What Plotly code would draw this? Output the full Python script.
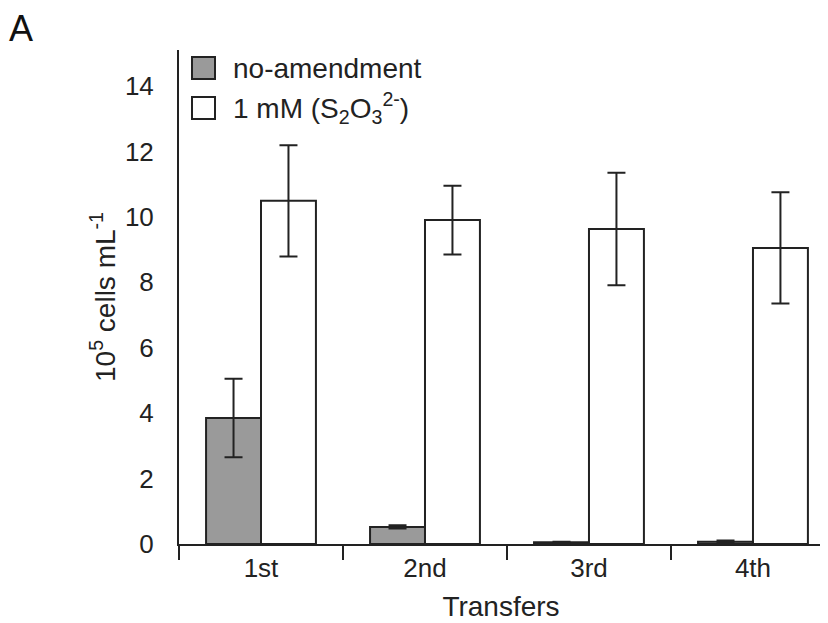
import plotly.graph_objects as go

categories = ["1st", "2nd", "3rd", "4th"]
no_amend = [3.85, 0.52, 0.05, 0.07]
no_amend_err = [1.2, 0.05, 0.02, 0.04]
thio = [10.49, 9.9, 9.63, 9.05]
thio_err = [1.7, 1.05, 1.72, 1.7]
y_ticks = [0, 2, 4, 6, 8, 10, 12, 14]

INK = "#222222"
FONT = "Liberation Sans, Arial, sans-serif"

fig = go.Figure()
fig.add_trace(go.Bar(
    x=categories, y=no_amend, name="no-amendment",
    marker=dict(color="#9a9a9a", line=dict(color=INK, width=2)),
    error_y=dict(type="data", array=no_amend_err, visible=True,
                 color=INK, thickness=2, width=9),
    showlegend=False,
))
fig.add_trace(go.Bar(
    x=categories, y=thio, name="1 mM (S2O3 2-)",
    marker=dict(color="white", line=dict(color=INK, width=2)),
    error_y=dict(type="data", array=thio_err, visible=True,
                 color=INK, thickness=2, width=9),
    showlegend=False,
))

# legend drawn manually (large square swatches)
legend_items = [("no-amendment", "#9a9a9a"),
                ("1 mM (S<sub>2</sub>O<sub>3</sub><sup>2-</sup>)", "white")]
for i, (label, col) in enumerate(legend_items):
    top = -7 - 40 * i
    fig.add_shape(type="rect", xref="paper", yref="paper",
                  xsizemode="pixel", ysizemode="pixel",
                  xanchor=0, yanchor=1,
                  x0=13, x1=36, y0=top, y1=top - 22,
                  fillcolor=col, line=dict(color=INK, width=2))
    fig.add_annotation(xref="paper", yref="paper", x=0, y=1,
                       xanchor="left", yanchor="middle",
                       xshift=52, yshift=top - 11,
                       text=label, showarrow=False,
                       font=dict(size=28, color=INK, family=FONT))

fig.add_annotation(xref="paper", yref="paper", x=0, y=1,
                   xanchor="left", yanchor="top", xshift=-172, yshift=44,
                   text="A", showarrow=False,
                   font=dict(size=36, color="#111111", family=FONT))

fig.update_layout(
    width=828, height=623,
    margin=dict(l=171, r=13, t=42, b=87),
    paper_bgcolor="white", plot_bgcolor="white",
    barmode="group", bargap=0.33, bargroupgap=0,
    font=dict(family=FONT, color=INK, size=26),
    xaxis=dict(
        range=[-0.5, 3.427], showline=True, linecolor=INK, linewidth=2,
        ticks="outside", tickson="boundaries", ticklen=14, tickwidth=1.5,
        tickcolor=INK, showgrid=False, zeroline=False,
        tickfont=dict(size=26, color=INK),
        title=dict(text="Transfers", font=dict(size=28, color=INK), standoff=14),
        automargin=False,
    ),
    yaxis=dict(
        range=[0, 15.1], tickvals=y_ticks, showline=True, linecolor=INK,
        linewidth=2, ticks="", showgrid=False, zeroline=False,
        ticklabelstandoff=18, tickfont=dict(size=26, color=INK),
        title=dict(text="10<sup>5</sup> cells mL<sup>-1</sup>",
                   font=dict(size=28, color=INK), standoff=1),
        automargin=False,
    ),
)

fig.write_html("out.html")
